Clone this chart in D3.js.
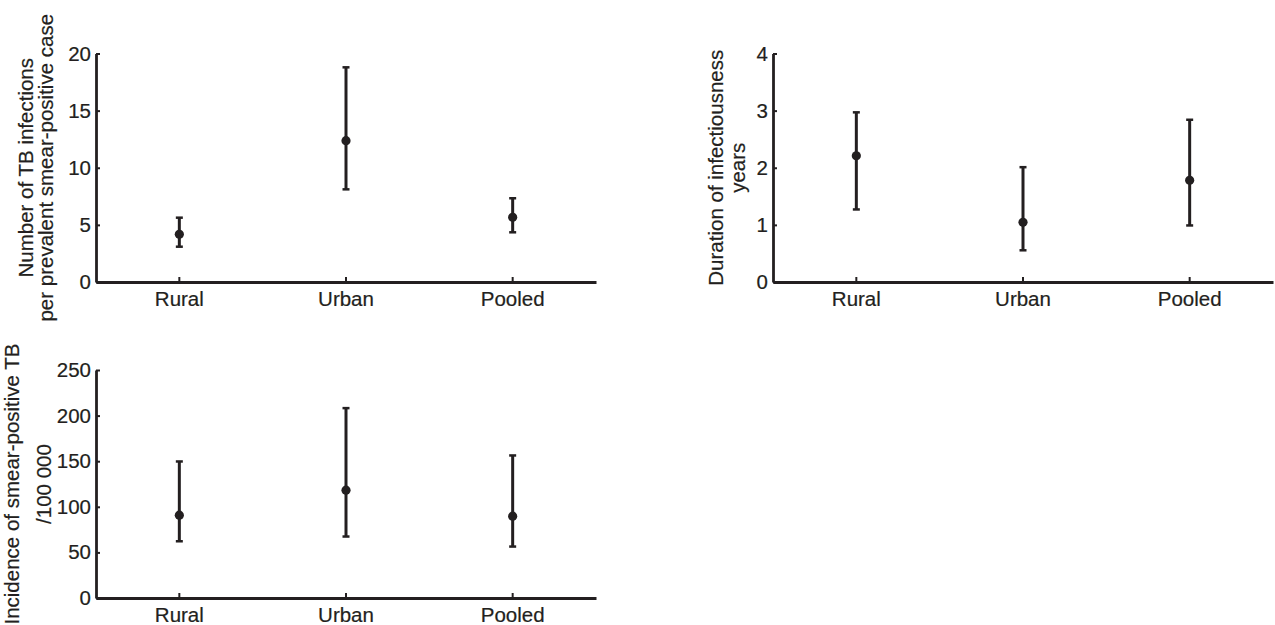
<!DOCTYPE html>
<html>
<head>
<meta charset="utf-8">
<script src="https://cdn.jsdelivr.net/npm/d3@7"></script>
<style>
  html, body { margin: 0; padding: 0; background: #ffffff; }
  svg { display: block; }
  text { font-family: "Liberation Sans", Arial, Helvetica, sans-serif; fill: #231f20; stroke: #231f20; stroke-width: 0.2px; }
</style>
</head>
<body>
<svg id="chart" width="1275" height="625"></svg>
<script>
// ---- data ----
const categories = ["Rural", "Urban", "Pooled"];

const infectionsMean = [4.17, 12.37, 5.66];
const infectionsLow  = [3.09, 8.11, 4.35];
const infectionsHigh = [5.63, 18.79, 7.33];
const infectionsTicks = [0, 5, 10, 15, 20];
const infectionsTitle = ["Number of TB infections", "per prevalent smear-positive case"];

const durationMean = [2.21, 1.045, 1.78];
const durationLow  = [1.27, 0.555, 0.99];
const durationHigh = [2.97, 2.01, 2.84];
const durationTicks = [0, 1, 2, 3, 4];
const durationTitle = ["Duration of infectiousness", "years"];

const incidenceMean = [90.8, 118.2, 89.7];
const incidenceLow  = [62.2, 67.4, 56.4];
const incidenceHigh = [149.7, 208.2, 156.3];
const incidenceTicks = [0, 50, 100, 150, 200, 250];
const incidenceTitle = ["Incidence of smear-positive TB", "/100 000"];

// ---- drawing ----
const ink = "#231f20";
const svg = d3.select("#chart");

function panel(opts) {
  const { left, top, bottom, width, mean, low, high, ticks, title, titleX } = opts;
  const g = svg.append("g").attr("transform", `translate(${left},0)`);
  const x = d3.scaleBand().domain(categories).range([0, width]).padding(0);
  const y = d3.scaleLinear().domain([0, ticks[ticks.length - 1]]).range([bottom, top]);
  const cx = c => x(c) + x.bandwidth() / 2;

  // y axis
  const ya = g.append("g")
    .call(d3.axisLeft(y).tickValues(ticks).tickSizeInner(-4).tickSizeOuter(0).tickPadding(5).tickFormat(d3.format("d")));
  ya.select(".domain").attr("stroke", ink).attr("stroke-width", 2.8);
  ya.selectAll(".tick line").attr("stroke", ink).attr("stroke-width", 2);
  ya.selectAll(".tick text").attr("font-size", 20.5).attr("fill", ink)
    .attr("font-family", "'Liberation Sans', Arial, sans-serif");

  // x axis
  const xa = g.append("g").attr("transform", `translate(0,${bottom})`)
    .call(d3.axisBottom(x).tickSizeInner(-5).tickSizeOuter(0).tickPadding(9));
  xa.select(".domain").attr("stroke", ink).attr("stroke-width", 2.8);
  xa.selectAll(".tick line").attr("stroke", ink).attr("stroke-width", 2);
  xa.selectAll(".tick text").attr("font-size", 20.5).attr("fill", ink)
    .attr("font-family", "'Liberation Sans', Arial, sans-serif");

  // error bars
  const data = categories.map((c, i) => ({ c, m: mean[i], lo: low[i], hi: high[i] }));
  const capW = 3.5;
  const eb = g.append("g");
  eb.selectAll("line.bar").data(data).join("line").attr("class", "bar")
    .attr("x1", d => cx(d.c)).attr("x2", d => cx(d.c))
    .attr("y1", d => y(d.lo)).attr("y2", d => y(d.hi))
    .attr("stroke", ink).attr("stroke-width", 3);
  eb.selectAll("line.capHi").data(data).join("line").attr("class", "capHi")
    .attr("x1", d => cx(d.c) - capW).attr("x2", d => cx(d.c) + capW)
    .attr("y1", d => y(d.hi)).attr("y2", d => y(d.hi))
    .attr("stroke", ink).attr("stroke-width", 2.5);
  eb.selectAll("line.capLo").data(data).join("line").attr("class", "capLo")
    .attr("x1", d => cx(d.c) - capW).attr("x2", d => cx(d.c) + capW)
    .attr("y1", d => y(d.lo)).attr("y2", d => y(d.lo))
    .attr("stroke", ink).attr("stroke-width", 2.5);
  eb.selectAll("circle").data(data).join("circle")
    .attr("cx", d => cx(d.c)).attr("cy", d => y(d.m)).attr("r", 4.6)
    .attr("fill", ink);

  // y title
  const yc = (top + bottom) / 2;
  title.forEach((t, i) => {
    svg.append("text")
      .attr("transform", `translate(${titleX[i]},${yc}) rotate(-90)`)
      .attr("text-anchor", "middle")
      .attr("font-size", 20.5)
      .text(t);
  });
}

panel({ left: 96, top: 53.5, bottom: 282, width: 500,
  mean: infectionsMean, low: infectionsLow, high: infectionsHigh,
  ticks: infectionsTicks, title: infectionsTitle, titleX: [33, 53] });

panel({ left: 773, top: 53.5, bottom: 282, width: 500,
  mean: durationMean, low: durationLow, high: durationHigh,
  ticks: durationTicks, title: durationTitle, titleX: [723, 745] });

panel({ left: 96, top: 370, bottom: 598, width: 500,
  mean: incidenceMean, low: incidenceLow, high: incidenceHigh,
  ticks: incidenceTicks, title: incidenceTitle, titleX: [19, 51] });
</script>
</body>
</html>
